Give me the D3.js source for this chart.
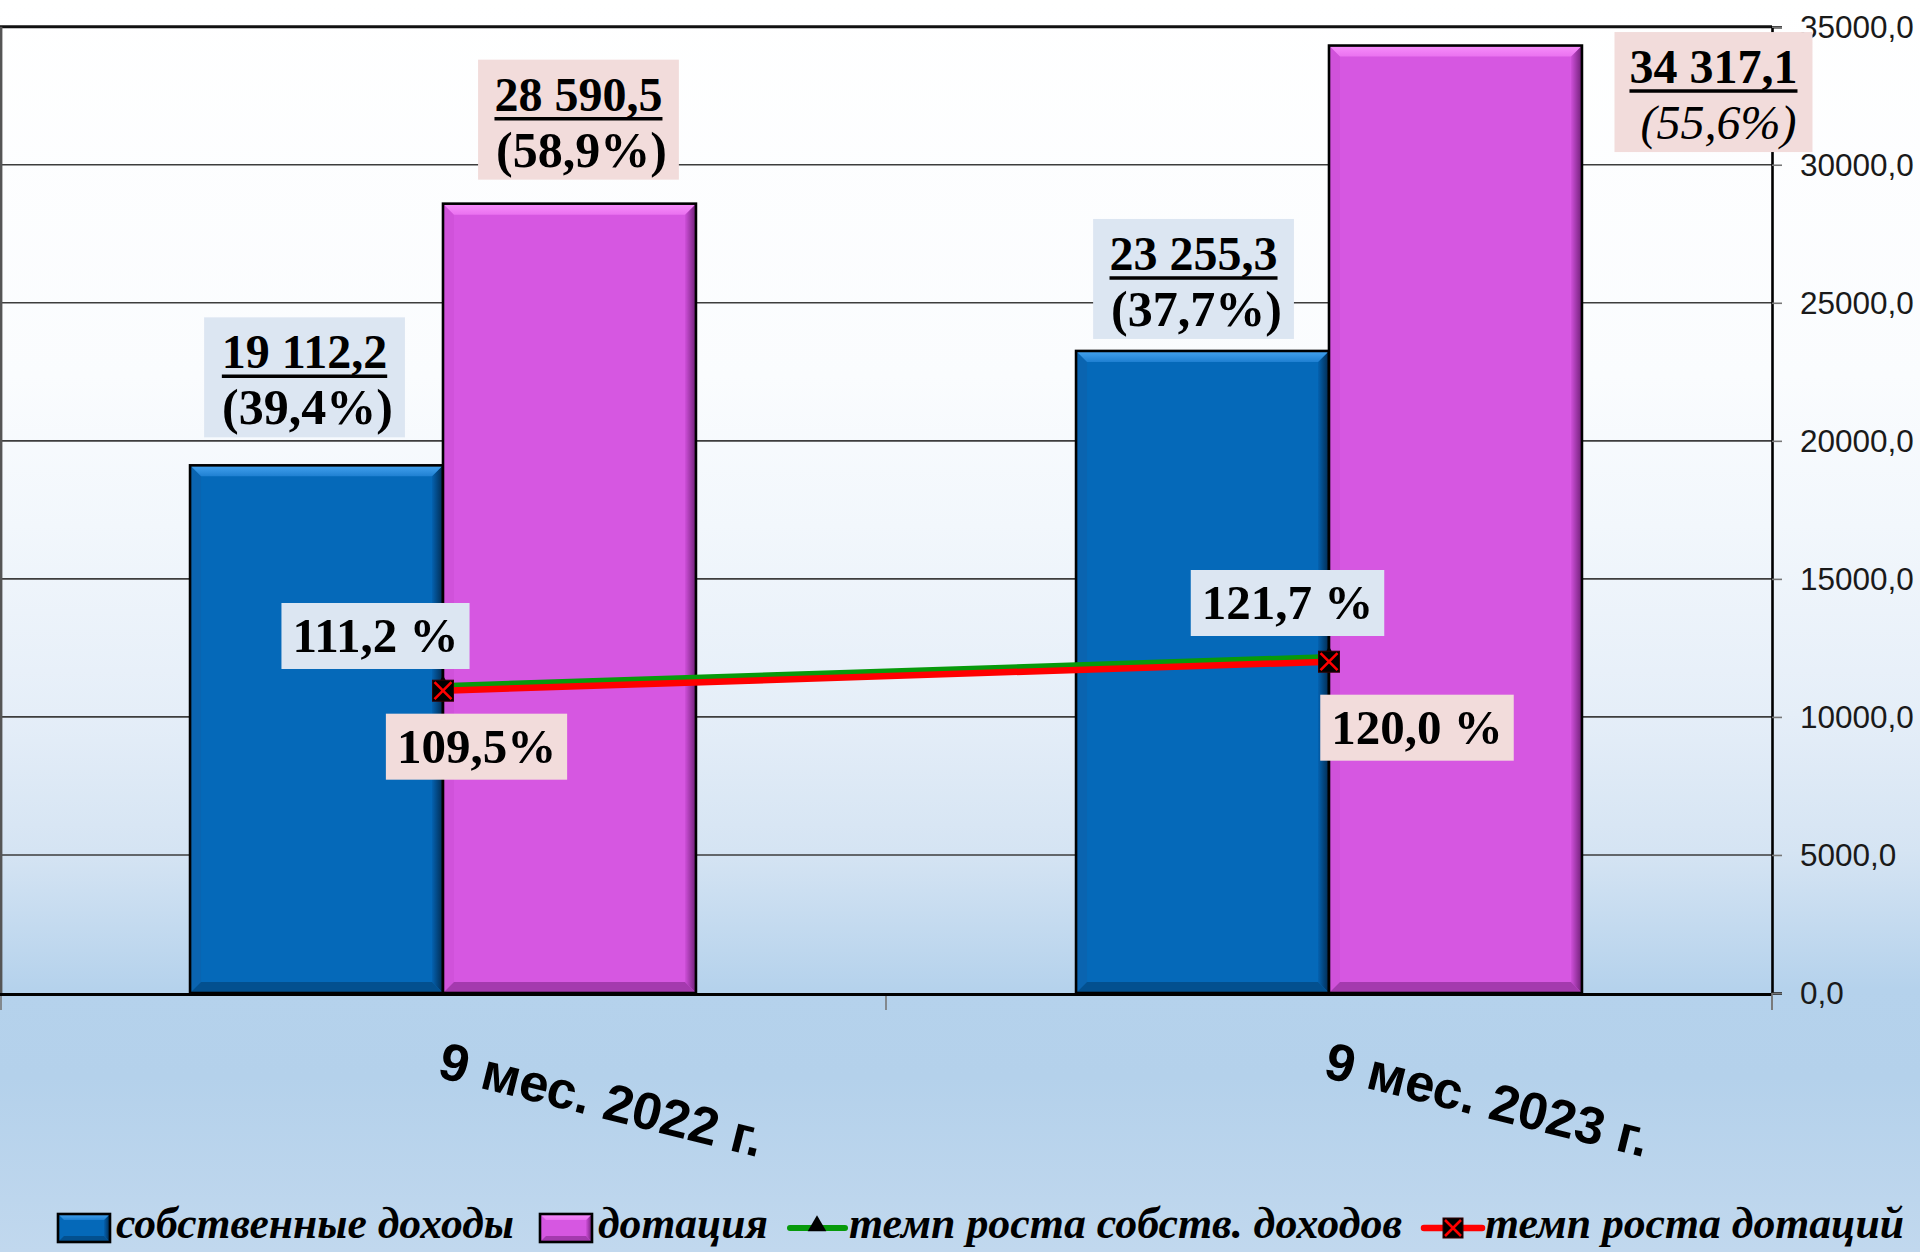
<!DOCTYPE html>
<html><head><meta charset="utf-8">
<script src="https://cdn.jsdelivr.net/npm/d3@7"></script>
<style>
html,body{margin:0;padding:0;background:#fff;}
svg{display:block;}
</style></head>
<body>
<svg id="chart" width="1920" height="1252"></svg>
<script>
// ---------- data ----------
const categories = ["9 мес. 2022 г.", "9 мес. 2023 г."];
const ownIncome = [19112.2, 23255.3];          // собственные доходы
const subsidy = [28590.5, 34317.1];            // дотация
const ownShare = [39.4, 37.7];                 // доля, %
const subsidyShare = [58.9, 55.6];             // доля, %
const ownGrowth = [111.2, 121.7];              // темп роста собств. доходов, %
const subsidyGrowth = [109.5, 120.0];          // темп роста дотаций, %
const ownGrowthSuffix = [" %", " %"];
const subsidyGrowthSuffix = ["%", " %"];
const yTicks = [0, 5000, 10000, 15000, 20000, 25000, 30000, 35000];
const legendLabels = ["собственные доходы", "дотация", "темп роста собств. доходов", "темп роста дотаций"];

// ---------- layout ----------
const W = 1920, H = 1252;
const plot = {left: 0, right: 1772, top: 26.7, bottom: 993};
const loc = d3.formatLocale({decimal: ",", thousands: " ", grouping: [3], currency: ["", ""]});
const fmtVal = loc.format(",.1f");
const fmtTick = loc.format(".1f");
const fmtPct = loc.format(".1f");

const svg = d3.select("#chart");
const defs = svg.append("defs");

// background gradient
const bg = defs.append("linearGradient").attr("id", "bg").attr("x1", 0).attr("y1", 0).attr("x2", 0).attr("y2", 1);
[[0, "#ffffff"], [0.30, "#fafcfe"], [0.42, "#f2f7fc"], [0.57, "#e5eef8"], [0.68, "#d5e4f3"], [0.79, "#b5d2ec"], [0.86, "#b4d1eb"], [1, "#c1d8ee"]]
  .forEach(([o, c]) => bg.append("stop").attr("offset", o).attr("stop-color", c));
svg.append("rect").attr("width", W).attr("height", H).attr("fill", "url(#bg)");

// bar style gradients
function sideGrad(id, c1, c2) {
  const g = defs.append("linearGradient").attr("id", id).attr("x1", 0).attr("y1", 0).attr("x2", 1).attr("y2", 0);
  g.append("stop").attr("offset", 0).attr("stop-color", c1);
  g.append("stop").attr("offset", 1).attr("stop-color", c2);
}
function topGrad(id, c1, c2) {
  const g = defs.append("linearGradient").attr("id", id).attr("x1", 0).attr("y1", 0).attr("x2", 0).attr("y2", 1);
  g.append("stop").attr("offset", 0).attr("stop-color", c1);
  g.append("stop").attr("offset", 1).attr("stop-color", c2);
}
const styles = {
  own: {base: "#0569b9", top: "url(#ownTop)", right: "url(#ownRight)", bottom: "#03508f", left: "#0a64b0"},
  sub: {base: "#d657e1", top: "url(#subTop)", right: "url(#subRight)", bottom: "#a43aae", left: "#d052da"}
};
topGrad("ownTop", "#45a3ef", "#1f80d2");
sideGrad("ownRight", "#0462b0", "#022a4f");
topGrad("subTop", "#f88ffb", "#ea72f0");
sideGrad("subRight", "#cf50da", "#6e1f76");

// scales
const x0 = d3.scaleBand().domain(categories).range([plot.left, plot.right]).paddingInner(0.429).paddingOuter(0.2145);
const x1 = d3.scaleBand().domain(["own", "sub"]).range([0, x0.bandwidth()]);
const y = d3.scaleLinear().domain([0, 35000]).range([plot.bottom, plot.top]);
const y2 = d3.scaleLinear().domain([0, 350]).range([plot.bottom, plot.top]);

// gridlines
svg.append("g").selectAll("line").data(yTicks.filter(t => t > 0 && t < 35000)).join("line")
  .attr("x1", plot.left).attr("x2", plot.right).attr("y1", d => y(d)).attr("y2", d => y(d))
  .attr("stroke", "#3d3d3d").attr("stroke-width", 1.6);

// plot frame top / left
svg.append("line").attr("x1", plot.left).attr("x2", plot.right).attr("y1", plot.top).attr("y2", plot.top)
  .attr("stroke", "#111").attr("stroke-width", 3);
svg.append("line").attr("x1", 1.2).attr("x2", 1.2).attr("y1", plot.top).attr("y2", plot.bottom)
  .attr("stroke", "#555").attr("stroke-width", 2.4);

// bars
const barData = [];
categories.forEach((c, i) => {
  barData.push({cat: c, key: "own", value: ownIncome[i], share: ownShare[i], i});
  barData.push({cat: c, key: "sub", value: subsidy[i], share: subsidyShare[i], i});
});
const bevel = 11;
const bars = svg.append("g");
barData.forEach(d => {
  const bx = x0(d.cat) + x1(d.key), bw = x1.bandwidth();
  const by = y(d.value), bh = y(0) - y(d.value);
  const st = styles[d.key], b = bevel;
  const g = bars.append("g");
  g.append("rect").attr("x", bx).attr("y", by).attr("width", bw).attr("height", bh).attr("fill", st.base);
  const poly = (pts, fill) => g.append("polygon").attr("points", pts.map(p => p.join(",")).join(" ")).attr("fill", fill);
  poly([[bx, by], [bx + b, by + b], [bx + b, by + bh - b], [bx, by + bh]], st.left);
  poly([[bx + bw, by], [bx + bw, by + bh], [bx + bw - b, by + bh - b], [bx + bw - b, by + b]], st.right);
  poly([[bx, by + bh], [bx + bw, by + bh], [bx + bw - b, by + bh - b], [bx + b, by + bh - b]], st.bottom);
  poly([[bx, by], [bx + bw, by], [bx + bw - b, by + b], [bx + b, by + b]], st.top);
  g.append("rect").attr("x", bx).attr("y", by).attr("width", bw).attr("height", bh)
    .attr("fill", "none").attr("stroke", "#000").attr("stroke-width", 2.6);
});

// bottom axis
svg.append("line").attr("x1", plot.left).attr("x2", plot.right).attr("y1", plot.bottom + 1.5).attr("y2", plot.bottom + 1.5)
  .attr("stroke", "#000").attr("stroke-width", 3);
const catTicks = [plot.left + 1, x0(categories[1]) - x0.step() * x0.paddingInner() / 2, plot.right];
svg.append("g").selectAll("line").data(catTicks).join("line")
  .attr("x1", d => d).attr("x2", d => d).attr("y1", plot.bottom + 3).attr("y2", plot.bottom + 17)
  .attr("stroke", "#777").attr("stroke-width", 1.6);

// right value axis
const yAxis = d3.axisRight(y).tickValues(yTicks).tickSize(10).tickPadding(18).tickFormat(d => fmtTick(d));
const ya = svg.append("g").attr("transform", `translate(${plot.right},0)`).call(yAxis);
ya.select(".domain").attr("stroke", "#000").attr("stroke-width", 2.6);
ya.selectAll(".tick line").attr("stroke", "#777").attr("stroke-width", 1.6);
ya.selectAll(".tick text").attr("font-family", "'Liberation Sans', Arial, sans-serif").attr("font-size", 31.5)
  .attr("fill", "#1a1a1a").attr("dy", "0.33em");
svg.append("line").attr("x1", plot.right).attr("x2", plot.right).attr("y1", plot.bottom).attr("y2", plot.bottom + 17)
  .attr("stroke", "#777").attr("stroke-width", 1.6);

// category labels
svg.append("g").selectAll("text").data(categories).join("text")
  .attr("transform", d => `translate(${x0(d) + x0.bandwidth() / 2 - 7},1077) rotate(14)`)
  .attr("font-family", "'Liberation Sans', Arial, sans-serif").attr("font-weight", "bold").attr("font-size", 52.5)
  .attr("fill", "#000").text(d => d);

// growth lines
const cx = c => x0(c) + x0.bandwidth() / 2;
const lineOwn = d3.line().x((d, i) => cx(categories[i])).y(d => y2(d));
svg.append("path").datum(ownGrowth).attr("d", lineOwn).attr("fill", "none").attr("stroke", "#079a0b").attr("stroke-width", 6);
ownGrowth.forEach((v, i) => {
  const px = cx(categories[i]), py = y2(v);
  svg.append("path").attr("d", d3.symbol(d3.symbolTriangle, 140)()).attr("transform", `translate(${px},${py})`).attr("fill", "#000");
});
svg.append("path").datum(subsidyGrowth).attr("d", lineOwn).attr("fill", "none").attr("stroke", "#ff0000").attr("stroke-width", 6.5);
function xMarker(g, px, py, s) {
  g.append("rect").attr("x", px - s / 2).attr("y", py - s / 2).attr("width", s).attr("height", s).attr("fill", "#000").attr("stroke", "#300").attr("stroke-width", 1);
  g.append("path").attr("d", `M${px - s / 2 + 2},${py - s / 2 + 2}L${px + s / 2 - 2},${py + s / 2 - 2}M${px + s / 2 - 2},${py - s / 2 + 2}L${px - s / 2 + 2},${py + s / 2 - 2}`)
    .attr("stroke", "#ff0000").attr("stroke-width", 2.6);
}
const mk = svg.append("g");
subsidyGrowth.forEach((v, i) => xMarker(mk, cx(categories[i]), y2(v), 21));

// ---------- data labels ----------
const serif = "'Liberation Serif', 'Times New Roman', serif";
const BLUEBOX = "#dce6f2", PINKBOX = "#f2dcdb";
// label placement offsets relative to bar top / point (annotation layout)
const valueLabelLayout = {
  own: [{dx: -12, gap: 28}, {dx: -9, gap: 12}],
  sub: [{dx: 9, gap: 24}, {dx: 258, gap: -106.5}]
};
const labels = svg.append("g");
barData.forEach(d => {
  const L = valueLabelLayout[d.key][d.i];
  const bcx = x0(d.cat) + x1(d.key) + x1.bandwidth() / 2 + L.dx;
  const boxBottom = y(d.value) - L.gap;
  const boxTop = boxBottom - 120;
  const g = labels.append("g");
  const rect = g.append("rect").attr("fill", d.key === "own" ? BLUEBOX : PINKBOX);
  const t1 = g.append("text").attr("x", bcx).attr("y", boxTop + 51).attr("text-anchor", "middle")
    .attr("font-family", serif).attr("font-weight", "bold").attr("font-size", 48).text(fmtVal(d.value));
  const italic = d.key === "sub" && d.i === 1;
  const t2 = g.append("text").attr("x", bcx + (italic ? 5 : 3)).attr("y", boxTop + 107).attr("text-anchor", "middle")
    .attr("font-family", serif).attr("font-weight", italic ? "normal" : "bold").attr("font-style", italic ? "italic" : "normal")
    .attr("font-size", italic ? 48 : 50).text("(" + fmtPct(d.share) + "%)");
  const b1 = t1.node().getBBox(), b2 = t2.node().getBBox();
  g.append("line").attr("x1", b1.x).attr("x2", b1.x + b1.width).attr("y1", boxTop + 59).attr("y2", boxTop + 59)
    .attr("stroke", "#000").attr("stroke-width", 3.5);
  const w = Math.max(b1.width, b2.width) + 30;
  rect.attr("x", bcx - w / 2).attr("y", boxTop).attr("width", w).attr("height", 120);
});

const growthLayout = {
  own: [{dx: -67.5, dy: -50}, {dx: -41.5, dy: -54}],
  sub: [{dx: 33.5, dy: 56}, {dx: 88, dy: 66}]
};
function growthLabel(vals, suffix, key, fill) {
  vals.forEach((v, i) => {
    const L = growthLayout[key][i];
    const px = cx(categories[i]) + L.dx, py = y2(v) + L.dy;
    const g = labels.append("g");
    const rect = g.append("rect").attr("fill", fill);
    const t = g.append("text").attr("x", px).attr("y", py + 16).attr("text-anchor", "middle")
      .attr("font-family", serif).attr("font-weight", "bold").attr("font-size", 49).text(fmtPct(v) + suffix[i]);
    const bb = t.node().getBBox();
    const w = bb.width + 22, h = 66;
    rect.attr("x", px - w / 2).attr("y", py - h / 2).attr("width", w).attr("height", h);
  });
}
growthLabel(ownGrowth, ownGrowthSuffix, "own", BLUEBOX);
growthLabel(subsidyGrowth, subsidyGrowthSuffix, "sub", PINKBOX);

// ---------- legend ----------
const legY = 1228;
const legend = svg.append("g");
const legendItems = [
  {type: "bar", key: "own", sx: 58, tx: 116, tw: 398},
  {type: "bar", key: "sub", sx: 540, tx: 598, tw: 170},
  {type: "lineTri", sx: 790, tx: 849, tw: 553},
  {type: "lineX", sx: 1424, tx: 1485, tw: 419}
];
legendItems.forEach((it, k) => {
  if (it.type === "bar") {
    const st = styles[it.key], bx = it.sx, by = legY - 14, bw = 52, bh = 28, b = 6;
    legend.append("rect").attr("x", bx).attr("y", by).attr("width", bw).attr("height", bh).attr("fill", st.base);
    const poly = (pts, fill) => legend.append("polygon").attr("points", pts.map(p => p.join(",")).join(" ")).attr("fill", fill);
    poly([[bx + bw, by], [bx + bw, by + bh], [bx + bw - b, by + bh - b], [bx + bw - b, by + b]], st.right);
    poly([[bx, by + bh], [bx + bw, by + bh], [bx + bw - b, by + bh - b], [bx + b, by + bh - b]], st.bottom);
    poly([[bx, by], [bx + bw, by], [bx + bw - b, by + b], [bx + b, by + b]], st.top);
    legend.append("rect").attr("x", bx).attr("y", by).attr("width", bw).attr("height", bh)
      .attr("fill", "none").attr("stroke", "#000").attr("stroke-width", 2.6);
  } else if (it.type === "lineTri") {
    legend.append("line").attr("x1", it.sx).attr("x2", it.sx + 55).attr("y1", legY).attr("y2", legY)
      .attr("stroke", "#079a0b").attr("stroke-width", 6).attr("stroke-linecap", "round");
    legend.append("path").attr("d", d3.symbol(d3.symbolTriangle, 150)()).attr("transform", `translate(${it.sx + 27},${legY - 2})`).attr("fill", "#000");
  } else {
    legend.append("line").attr("x1", it.sx).attr("x2", it.sx + 58).attr("y1", legY).attr("y2", legY)
      .attr("stroke", "#ff0000").attr("stroke-width", 6.5).attr("stroke-linecap", "round");
    xMarker(legend, it.sx + 29, legY, 20);
  }
  legend.append("text").attr("x", it.tx).attr("y", legY + 10)
    .attr("font-family", serif).attr("font-style", "italic").attr("font-weight", "bold").attr("font-size", 44)
    .attr("textLength", it.tw).attr("lengthAdjust", "spacingAndGlyphs").text(legendLabels[k]);
});
</script>
</body></html>
